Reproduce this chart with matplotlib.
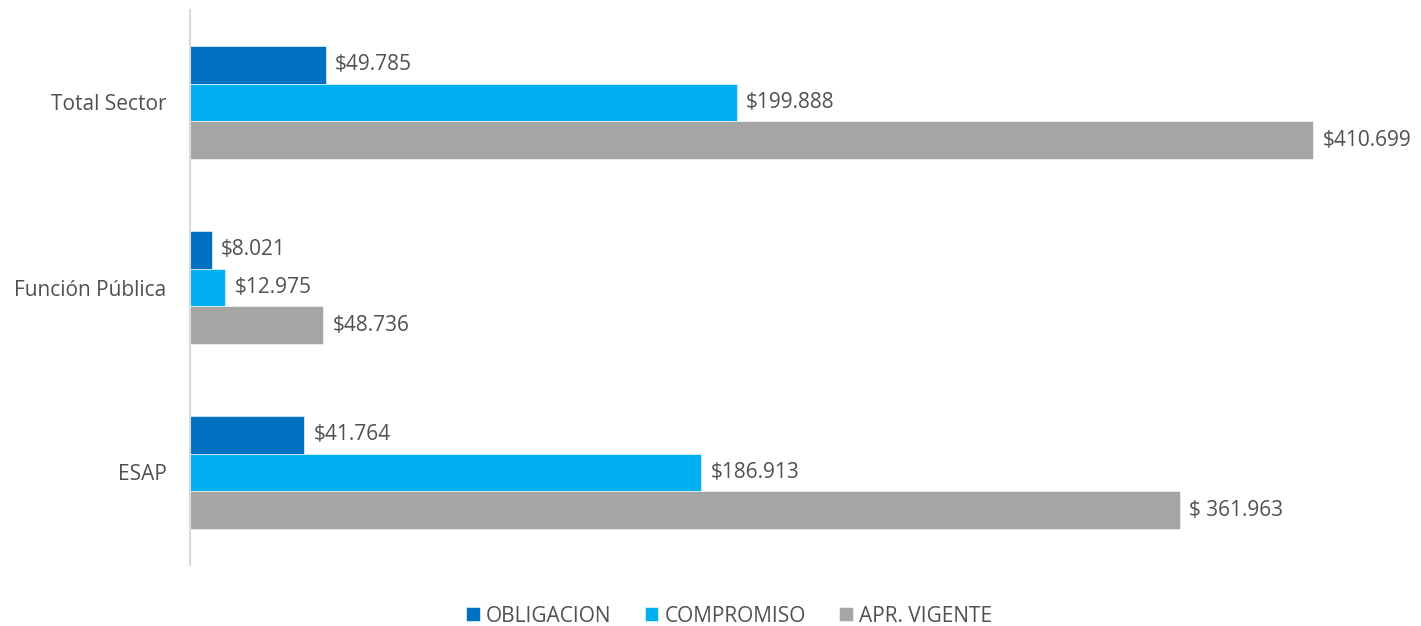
import matplotlib.pyplot as plt
import numpy as np

# data (millions of pesos)
categories = ['ESAP', 'Función Pública', 'Total Sector']
series_names = ['OBLIGACION', 'COMPROMISO', 'APR. VIGENTE']
obligacion = [41.764, 8.021, 49.785]
compromiso = [186.913, 12.975, 199.888]
apr_vigente = [361.963, 48.736, 410.699]
obligacion_lbl = ['$41.764', '$8.021', '$49.785']
compromiso_lbl = ['$186.913', '$12.975', '$199.888']
apr_vigente_lbl = ['$ 361.963', '$48.736', '$410.699']

colors = ['#0070C0', '#00B0F0', '#A5A5A5']
txt_color = '#505050'
plt.rcParams['font.family'] = ['Open Sans', 'DejaVu Sans']

fig = plt.figure(figsize=(14.21, 6.26), dpi=100)
ax = fig.add_axes([190 / 1421, 1 - 565 / 626, 1 - 190 / 1421, 555 / 626])

y = np.arange(len(categories))
h = 0.205
vals = [obligacion, compromiso, apr_vigente]
lbls = [obligacion_lbl, compromiso_lbl, apr_vigente_lbl]
offsets = [h, 0, -h]
for vs, ls, off, c, name in zip(vals, lbls, offsets, colors, series_names):
    bars = ax.barh(y + off, vs, height=h, color=c, label=name,
                   edgecolor='white', linewidth=0.4)
    for b, l in zip(bars, ls):
        ax.annotate(l, (b.get_width(), b.get_y() + b.get_height() / 2),
                    xytext=(6.5, 0), textcoords='offset points',
                    ha='left', va='center', fontsize=15, color=txt_color)

ax.set_xlim(0, 450)
ax.set_ylim(-0.5, 2.5)
ax.set_yticks(y)
ax.set_yticklabels(categories, fontsize=15, color=txt_color)
ax.tick_params(axis='y', length=0, pad=17)
ax.set_xticks([])
for s in ['top', 'right', 'bottom']:
    ax.spines[s].set_visible(False)
ax.spines['left'].set_color('#D9D9D9')
ax.spines['left'].set_linewidth(1.5)

leg = fig.legend(loc='center', bbox_to_anchor=(729 / 1421, 1 - 616 / 626),
                 ncol=3, frameon=False, fontsize=15, handlelength=0.65,
                 handleheight=0.65, handletextpad=0.3, columnspacing=1.6)
for t in leg.get_texts():
    t.set_color(txt_color)

fig.savefig('out.png', dpi=100)
